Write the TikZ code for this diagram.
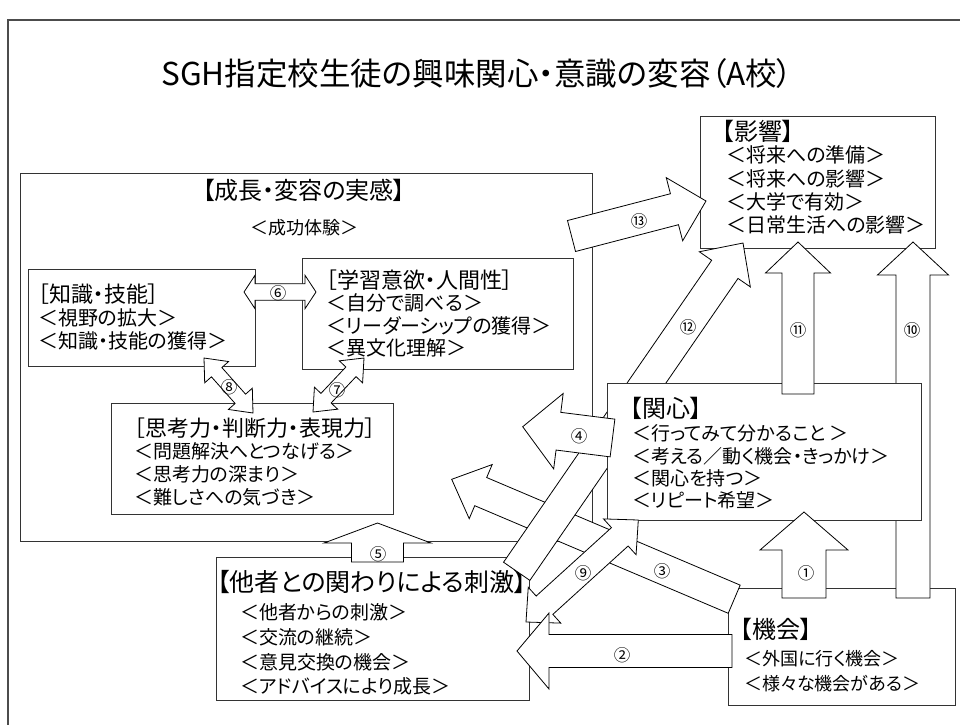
\documentclass[tikz,border=0pt]{standalone}
\usepackage{fontspec}
\setmainfont{Noto Sans CJK JP}[RawFeature=+palt]
\usetikzlibrary{calc}
\newcommand{\barr}[6]{%
  \coordinate (#6n) at ($(#2)!#5pt!(#1)$);
  \draw[arr] ($(#1)!#3pt!90:(#2)$) -- ($(#6n)!#3pt!90:(#2)$) -- ($(#6n)!#4pt!90:(#2)$) -- (#2)
    -- ($(#6n)!#4pt!-90:(#2)$) -- ($(#6n)!#3pt!-90:(#2)$) -- ($(#1)!#3pt!-90:(#2)$) -- cycle;}
\newcommand{\darr}[6]{%
  \coordinate (#6a) at ($(#1)!#5pt!(#2)$);
  \coordinate (#6b) at ($(#2)!#5pt!(#1)$);
  \draw[arr] (#1) -- ($(#6a)!#4pt!90:(#2)$) -- ($(#6a)!#3pt!90:(#2)$) -- ($(#6b)!#3pt!-90:(#1)$)
    -- ($(#6b)!#4pt!-90:(#1)$) -- (#2) -- ($(#6b)!#4pt!90:(#1)$) -- ($(#6b)!#3pt!90:(#1)$)
    -- ($(#6a)!#3pt!-90:(#2)$) -- ($(#6a)!#4pt!-90:(#2)$) -- cycle;}
\tikzset{
  box/.style={draw=black!80, line width=1.2pt, fill=white, inner sep=0pt, anchor=north west},
  arr/.style={draw=black, line width=0.8pt, fill=white, line join=miter},
  txt/.style={anchor=west, inner sep=0pt, font=\fontsize{20}{24}\selectfont},
  txs/.style={anchor=west, inner sep=0pt, font=\fontsize{19}{23}\selectfont},
  txm/.style={anchor=west, inner sep=0pt, font=\fontsize{18}{22}\selectfont},
  hd/.style={anchor=west, inner sep=0pt, font=\fontsize{24}{28}\selectfont},
  hdm/.style={anchor=west, inner sep=0pt, font=\fontsize{22}{26}\selectfont},
  num/.style={inner sep=0pt, font=\fontsize{16.5}{18}\selectfont},
}
\begin{document}
\begin{tikzpicture}[x=1pt,y=-1pt]
\useasboundingbox (0,0) rectangle (960,724);
\fill[white] (0,0) rectangle (960,724);
\draw[black!70, line width=1.5pt] (8,740) -- (8,20) -- (970,20);
\node[inner sep=0pt, font=\fontsize{31.5}{36}\selectfont] (title) at (477,74) {SGH指定校生徒の興味関心・意識の変容（A校）};
\node[text=black!45, inner sep=0pt, font=\fontsize{12}{14}\selectfont] (page) at (858,702) {1};

% boxes
\node[box, minimum width=572pt, minimum height=368pt] (seicho) at (20,173) {};
\node[box, minimum width=227pt, minimum height=97pt] (chishiki) at (28,269) {};
\node[box, minimum width=271pt, minimum height=111pt] (gakushu) at (302,258) {};
\node[box, minimum width=282pt, minimum height=111pt] (shiko) at (111,403) {};
\node[box, minimum width=313pt, minimum height=143pt] (tasha) at (216,557) {};
\node[box, minimum width=227pt, minimum height=117pt] (kikai) at (728,588) {};
\node[box, minimum width=235pt, minimum height=132pt] (eikyo) at (700,116) {};

% texts
\node[inner sep=0pt, font=\fontsize{24}{28}\selectfont] (sh) at (304,190) {【成長・変容の実感】};
\node[inner sep=0pt, font=\fontsize{18}{22}\selectfont] (s1) at (304,228) {＜成功体験＞};
\node[hdm] (ch) at (38,294) {［知識・技能］};
\node[txt] (c1) at (38,318) {＜視野の拡大＞};
\node[txt] (c2) at (38,341) {＜知識・技能の獲得＞};
\node[hdm] (gh) at (326,280) {［学習意欲・人間性］};
\node[txt] (g1) at (326,303) {＜自分で調べる＞};
\node[txt] (g2) at (326,326) {＜リーダーシップの獲得＞};
\node[txt] (g3) at (326,348) {＜異文化理解＞};
\node[hdm] (kh) at (134,428) {［思考力・判断力・表現力］};
\node[txs] (k1) at (134,451) {＜問題解決へとつなげる＞};
\node[txs] (k2) at (134,474) {＜思考力の深まり＞};
\node[txs] (k3) at (134,497) {＜難しさへの気づき＞};
\node[inner sep=0pt, anchor=west, font=\fontsize{25}{29}\selectfont] (th) at (217,582) {【他者との関わりによる刺激】};
\node[txs] (t1) at (240,612) {＜他者からの刺激＞};
\node[txs] (t2) at (240,637) {＜交流の継続＞};
\node[txs] (t3) at (240,662) {＜意見交換の機会＞};
\node[txs] (t4) at (240,686) {＜アドバイスにより成長＞};
\node[hd] (kkh) at (740,629) {【機会】};
\node[txm] (kk1) at (744,659) {＜外国に行く機会＞};
\node[txm] (kk2) at (744,684) {＜様々な機会がある＞};
\node[hd] (eh) at (722,131) {【影響】};
\node[txt] (e1) at (726,155) {＜将来への準備＞};
\node[txt] (e2) at (726,179) {＜将来への影響＞};
\node[txt] (e3) at (726,202) {＜大学で有効＞};
\node[txt] (e4) at (726,225) {＜日常生活への影響＞};

% arrow end points
\coordinate (a1s) at (804,598);   \coordinate (a1e) at (804,512);
\coordinate (a2s) at (732,651);   \coordinate (a2e) at (517,651);
\coordinate (a3s) at (734.2,599.2); \coordinate (a3e) at (451.7,479.3);
\coordinate (a4s) at (612.5,438); \coordinate (a4e) at (522.7,426.7);
\coordinate (a5s) at (377.5,562); \coordinate (a5e) at (377.5,523);
\coordinate (a6s) at (244,292);   \coordinate (a6e) at (316,292);
\coordinate (a7s) at (313,412);   \coordinate (a7e) at (364,358);
\coordinate (a8s) at (204,358);   \coordinate (a8e) at (253,413);
\coordinate (a9s) at (526,622);   \coordinate (a9e) at (638.3,520);
\coordinate (a10s) at (913,598);  \coordinate (a10e) at (913,242);
\coordinate (a11s) at (798,394);  \coordinate (a11e) at (798,242);
\coordinate (a12s) at (516.7,571.3); \coordinate (a12e) at (743,243);
\coordinate (a13s) at (571.5,236); \coordinate (a13e) at (706,201);

% arrows under the 関心 box
\barr{a3s}{a3e}{15.3}{29.4}{31.5}{b3}
\barr{a12s}{a12e}{16}{31}{32}{b12}
\barr{a10s}{a10e}{17}{35.5}{33}{b10}

\node[box, minimum width=314pt, minimum height=137pt] (kanshin) at (607,383) {};
\node[hd] (nh) at (630,408) {【関心】};
\node[txs] (n1) at (632,433) {＜行ってみて分かること ＞};
\node[txs] (n2) at (632,456) {＜考える／動く機会・きっかけ＞};
\node[txs] (n3) at (632,478) {＜関心を持つ＞};
\node[txs] (n4) at (632,500) {＜リピート希望＞};

% arrows above
\barr{a4s}{a4e}{19}{38}{36}{b4}
\darr{a9s}{a9e}{12.4}{24.2}{25}{b9}
\barr{a2s}{a2e}{16.5}{38}{32}{b2}
\barr{a1s}{a1e}{22}{44}{38}{b1}
\barr{a11s}{a11e}{16}{32.5}{31}{b11}
\barr{a5s}{a5e}{26}{53.5}{20}{b5}
\darr{a6s}{a6e}{8.3}{16.7}{11}{b6}
\darr{a7s}{a7e}{7}{16}{19}{b7}
\darr{a8s}{a8e}{7}{16}{19}{b8}
\barr{a13s}{a13e}{16}{32.6}{32.6}{b13}

% labels
\node[num] (l1) at (806,573) {①};
\node[num] (l2) at (622,655) {②};
\node[num] (l3) at (662,571) {③};
\node[num] (l4) at (579,436) {④};
\node[num] (l5) at (378,554) {⑤};
\node[num] (l6) at (278,293) {⑥};
\node[num] (l7) at (337,390) {⑦};
\node[num] (l8) at (229,387) {⑧};
\node[num] (l9) at (583,573) {⑨};
\node[num] (l10) at (912,330) {⑩};
\node[num] (l11) at (798,330) {⑪};
\node[num] (l12) at (688,327) {⑫};
\node[num] (l13) at (639,221) {⑬};
\end{tikzpicture}
\end{document}
